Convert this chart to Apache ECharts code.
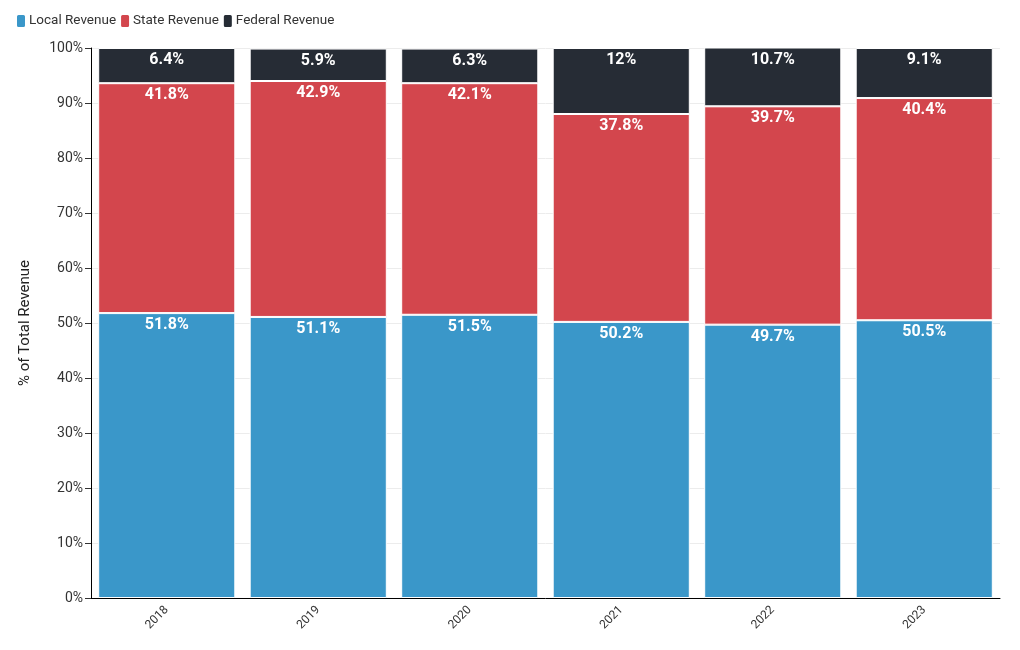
<!DOCTYPE html>
<html><head><meta charset="utf-8">
<script src="https://cdn.jsdelivr.net/npm/echarts@6/dist/echarts.min.js"></script>
<style>html,body{margin:0;padding:0;background:#fff}#c{width:1020px;height:650px}</style>
</head><body><div id="c"></div>
<script>
const years = ['2018','2019','2020','2021','2022','2023'];
const localRevenue = [51.8, 51.1, 51.5, 50.2, 49.7, 50.5];
const stateRevenue = [41.8, 42.9, 42.1, 37.8, 39.7, 40.4];
const federalRevenue = [6.4, 5.9, 6.3, 12, 10.7, 9.1];
const colors = ['#3a97c9', '#d3464d', '#262c35'];
const chart = echarts.init(document.getElementById('c'));
const lbl = {show:true, position:'insideTop', distance:4, color:'#fff', fontFamily:'Roboto', fontWeight:'bold', fontSize:16, formatter: p => p.value + '%'};
function s(name, data, i){
  return {name, type:'bar', stack:'t', data, barCategoryGap:'9.5%',
    itemStyle:{color:colors[i], borderColor:'#fff', borderWidth:1},
    label:lbl, emphasis:{disabled:true}};
}
chart.setOption({
  animation:false,
  textStyle:{fontFamily:'Roboto'},
  legend:{left:10, top:8, itemWidth:10, itemHeight:14, itemGap:3, icon:'roundRect',
    textStyle:{fontSize:13.5, color:'#333', fontFamily:'Roboto', padding:[0,0,0,-2]},
    data:['Local Revenue','State Revenue','Federal Revenue']},
  grid:{left:91, right:20, top:48, bottom:52, containLabel:false},
  xAxis:{type:'category', data:years,
    axisLine:{lineStyle:{color:'#000'}},
    axisTick:{alignWithLabel:true, length:6, lineStyle:{color:'#333'}},
    axisLabel:{rotate:45, fontSize:12, color:'#333', margin:10}},
  yAxis:{type:'value', min:0, max:100, interval:10,
    name:'% of Total Revenue', nameLocation:'middle', nameGap:58,
    nameTextStyle:{fontSize:15, color:'#222', fontFamily:'Roboto'},
    axisLine:{show:true, lineStyle:{color:'#000'}},
    axisTick:{show:true, length:6, lineStyle:{color:'#333'}},
    axisLabel:{formatter:'{value}%', fontSize:14, color:'#333', margin:8},
    splitLine:{lineStyle:{color:'#ececec'}}},
  series:[s('Local Revenue', localRevenue, 0), s('State Revenue', stateRevenue, 1), s('Federal Revenue', federalRevenue, 2)]
});
</script></body></html>
